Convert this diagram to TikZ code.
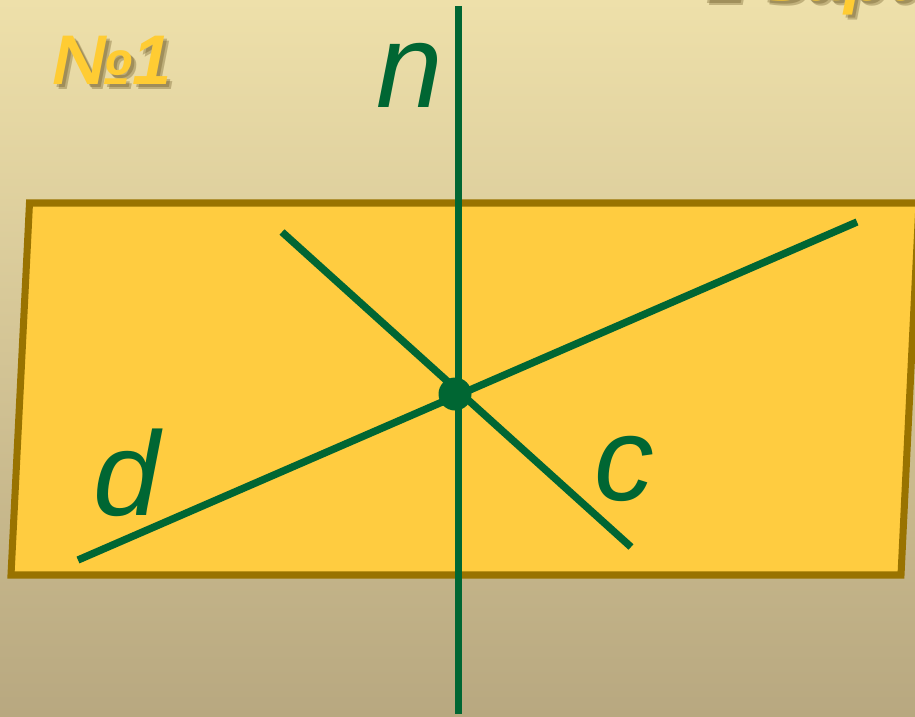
\documentclass[tikz,border=0pt]{standalone}
\usepackage{fontspec}
\setmainfont{Liberation Sans}
\usetikzlibrary{calc, positioning}

\definecolor{planefill}{RGB}{255,204,64}
\definecolor{planeedge}{RGB}{153,115,0}
\definecolor{linegreen}{RGB}{0,102,51}
\definecolor{headyellow}{RGB}{255,204,51}
\definecolor{bgtop}{RGB}{238,224,170}
\definecolor{bgbottom}{RGB}{184,168,128}
\definecolor{shadowbrown}{RGB}{90,70,20}

\begin{document}
\begin{tikzpicture}[
  x=0.02cm, y=-0.02cm,
  every node/.style={inner sep=0pt, anchor=base west},
  plane/.style={fill=planefill, draw=planeedge, line width=4pt, line join=miter},
  gline/.style={draw=linegreen, line width=4.2pt},
  letter/.style={text=linegreen, font=\itshape\fontsize{68}{80}\selectfont},
  headline/.style={text=headyellow, font=\bfseries\itshape\fontsize{40}{48}\selectfont},
  headshadow/.style={text=shadowbrown, opacity=0.3, font=\bfseries\itshape\fontsize{40}{48}\selectfont}
]
  % ----- background -----
  \useasboundingbox (0,0) rectangle (915,716);
  \clip (0,0) rectangle (915,716);
  \shade[top color=bgtop, bottom color=bgbottom] (0,0) rectangle (915,716);
  % ----- headings (with soft shadow) -----
  \node[headshadow] (numS) at (57,90) {№1};
  \node[headshadow] (numT) at (55,88) {№1};
  \node[headline] (num) at (52,85) {№1};
  \node[headshadow] (varS) at (710,6) {2 вариант};
  \node[headshadow] (varT) at (708,4) {2 вариант};
  \node[headline] (var) at (705,1) {2 вариант};
  % ----- plane -----
  \draw[plane] (29.5,203) -- (919,203) -- (901,575) -- (11,575) -- cycle;
  % ----- line ends -----
  \coordinate (dA) at (78,560);
  \coordinate (dB) at (857,222);
  \coordinate (cA) at (282,232);
  \coordinate (cB) at (631,547);
  \coordinate (nA) at (458.5,6);
  \coordinate (nB) at (458.5,714);
  % ----- lines d, c, n -----
  \draw[gline] (dA) -- (dB);
  \draw[gline] (cA) -- (cB);
  \draw[gline] (nA) -- (nB);
  % ----- common point -----
  \node[circle, fill=linegreen, minimum size=33*0.02cm, anchor=center] (O) at (455,394) {};
  % ----- labels -----
  \node[letter] (nLab) at (376,108) {n};
  \node[letter] (dLab) at (93,515) {d};
  \node[letter] (cLab) at (594,500) {c};
\end{tikzpicture}
\end{document}
